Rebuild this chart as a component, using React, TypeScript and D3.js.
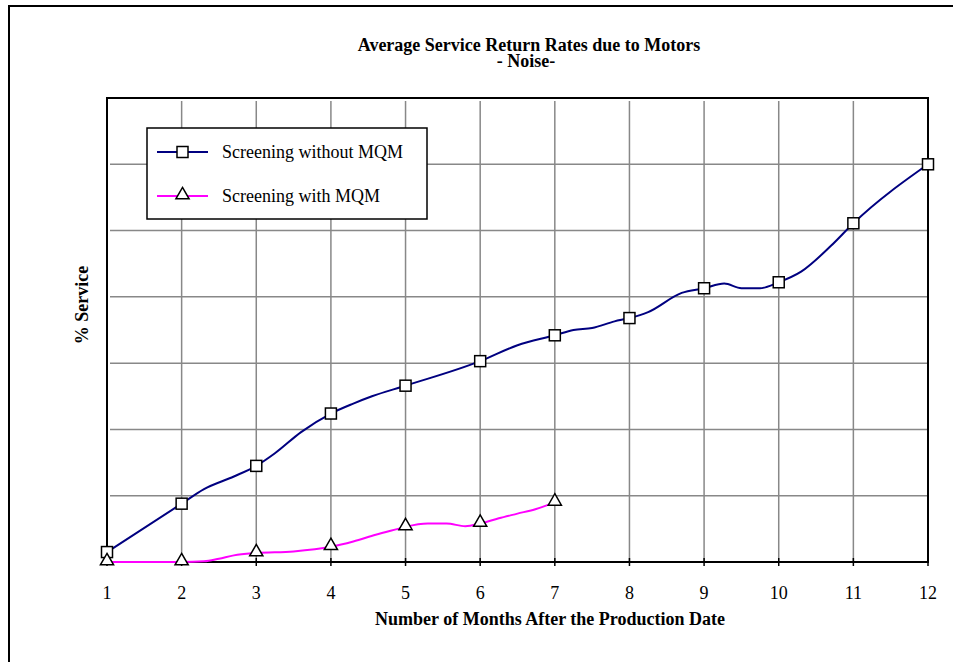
import * as d3 from "d3";
import React, { useEffect, useRef } from "react";

// months on the x axis
const months = [1, 2, 3, 4, 5, 6, 7, 8, 9, 10, 11, 12];

// Screening without MQM: [month, value] (grid units)
const withoutMonths = [1, 2, 2.3, 2.7, 3, 3.25, 3.6, 4, 4.3, 4.55, 5, 6, 6.5, 7, 7.25, 7.5, 7.8, 8, 8.25, 8.7, 9, 9.27, 9.5, 9.75, 10, 10.3, 10.7, 11, 12];
const withoutValues = [0.15, 0.88, 1.1, 1.29, 1.45, 1.64, 1.96, 2.24, 2.39, 2.5, 2.66, 3.03, 3.27, 3.42, 3.5, 3.53, 3.63, 3.68, 3.77, 4.06, 4.13, 4.2, 4.13, 4.13, 4.22, 4.38, 4.77, 5.11, 6.0];

// Screening with MQM
const withMonths = [1, 2, 2.3, 2.5, 2.7, 3, 3.5, 4, 4.3, 4.6, 4.9, 5, 5.3, 5.55, 5.8, 6, 6.25, 6.5, 6.75, 7];
const withValues = [0, 0, 0.01, 0.05, 0.1, 0.135, 0.16, 0.23, 0.31, 0.41, 0.5, 0.53, 0.58, 0.58, 0.54, 0.58, 0.66, 0.73, 0.8, 0.9];

const gridLevels = [1, 2, 3, 4, 5, 6];

const FONT = "'Liberation Serif', 'Times New Roman', serif";

const App: React.FC = () => {
  const ref = useRef<SVGSVGElement>(null);

  useEffect(() => {
    if (!ref.current) return;
    document.body.style.margin = "0";
    document.body.style.overflow = "hidden";
    const svg = d3.select(ref.current);
    svg.selectAll("*").remove();

    const left = 107,
      right = 928,
      top = 98,
      bottom = 562;

    const x = d3.scaleLinear().domain([1, 12]).range([left, right]);
    const y = d3.scaleLinear().domain([0, 7]).range([bottom, top]);

    // outer frame: only the top and left edges are inside the picture
    svg
      .append("path")
      .attr("d", "M9,662V6H953")
      .attr("fill", "none")
      .attr("stroke", "#000")
      .attr("stroke-width", 2);

    // title
    const title = svg
      .append("text")
      .attr("text-anchor", "middle")
      .style("font-family", FONT)
      .style("font-weight", "bold")
      .style("font-size", "18px");
    title.append("tspan").attr("x", 529).attr("y", 51).text("Average Service Return Rates due to Motors");
    title.append("tspan").attr("x", 526).attr("y", 67).text("- Noise-");

    // grid
    svg
      .append("g")
      .selectAll("line")
      .data(gridLevels)
      .join("line")
      .attr("x1", left + 3)
      .attr("x2", right)
      .attr("y1", (d) => y(d))
      .attr("y2", (d) => y(d))
      .attr("stroke", "#888")
      .attr("stroke-width", 1.5);

    svg
      .append("g")
      .selectAll("line")
      .data(months.slice(1, -1))
      .join("line")
      .attr("x1", (d) => x(d))
      .attr("x2", (d) => x(d))
      .attr("y1", top + 3)
      .attr("y2", bottom)
      .attr("stroke", "#888")
      .attr("stroke-width", 1.5);

    // tick marks
    svg
      .append("g")
      .selectAll("line")
      .data(months)
      .join("line")
      .attr("x1", (d) => x(d))
      .attr("x2", (d) => x(d))
      .attr("y1", bottom - 4)
      .attr("y2", bottom + 4)
      .attr("stroke", "#000")
      .attr("stroke-width", 1.5);

    // plot frame
    svg
      .append("rect")
      .attr("x", left)
      .attr("y", top)
      .attr("width", right - left)
      .attr("height", bottom - top)
      .attr("fill", "none")
      .attr("stroke", "#000")
      .attr("stroke-width", 2);

    // tick labels
    svg
      .append("g")
      .selectAll("text")
      .data(months)
      .join("text")
      .attr("x", (d) => x(d))
      .attr("y", 599)
      .attr("text-anchor", "middle")
      .style("font-family", FONT)
      .style("font-size", "18px")
      .text((d) => d);

    // axis titles
    svg
      .append("text")
      .attr("x", 550)
      .attr("y", 625)
      .attr("text-anchor", "middle")
      .style("font-family", FONT)
      .style("font-weight", "bold")
      .style("font-size", "18px")
      .text("Number of Months After the Production Date");

    svg
      .append("text")
      .attr("transform", "translate(88,305) rotate(-90)")
      .attr("text-anchor", "middle")
      .style("font-family", FONT)
      .style("font-weight", "bold")
      .style("font-size", "18px")
      .text("% Service");

    const line = d3
      .line<[number, number]>()
      .x((d) => x(d[0]))
      .y((d) => y(d[1]))
      .curve(d3.curveMonotoneX);

    const without: [number, number][] = withoutMonths.map((m, i) => [m, withoutValues[i]]);
    const withM: [number, number][] = withMonths.map((m, i) => [m, withValues[i]]);

    svg
      .append("path")
      .attr("d", line(withM))
      .attr("fill", "none")
      .attr("stroke", "#ff00ff")
      .attr("stroke-width", 2);

    svg
      .append("path")
      .attr("d", line(without))
      .attr("fill", "none")
      .attr("stroke", "#000080")
      .attr("stroke-width", 2);

    const tri = d3.symbol().type(d3.symbolTriangle).size(75);
    const sq = 11;

    // markers only at whole months
    svg
      .append("g")
      .selectAll("rect")
      .data(without.filter((d) => Number.isInteger(d[0])))
      .join("rect")
      .attr("x", (d) => x(d[0]) - sq / 2)
      .attr("y", (d) => y(d[1]) - sq / 2)
      .attr("width", sq)
      .attr("height", sq)
      .attr("fill", "#fff")
      .attr("stroke", "#000")
      .attr("stroke-width", 1.5);

    svg
      .append("g")
      .selectAll("path")
      .data(withM.filter((d) => Number.isInteger(d[0])))
      .join("path")
      .attr("d", tri)
      .attr("transform", (d) => `translate(${x(d[0])},${y(d[1]) - 1})`)
      .attr("fill", "#fff")
      .attr("stroke", "#000")
      .attr("stroke-width", 1.5);

    // legend
    const lg = svg.append("g");
    lg.append("rect")
      .attr("x", 147)
      .attr("y", 128)
      .attr("width", 280)
      .attr("height", 91)
      .attr("fill", "#fff")
      .attr("stroke", "#000")
      .attr("stroke-width", 1.5);

    const items = [
      { label: "Screening without MQM", color: "#000080", y: 152 },
      { label: "Screening with MQM", color: "#ff00ff", y: 196 },
    ];
    items.forEach((it, i) => {
      lg.append("line")
        .attr("x1", 157)
        .attr("x2", 208)
        .attr("y1", it.y)
        .attr("y2", it.y)
        .attr("stroke", it.color)
        .attr("stroke-width", 2);
      if (i === 0) {
        lg.append("rect")
          .attr("x", 182.5 - sq / 2)
          .attr("y", it.y - sq / 2)
          .attr("width", sq)
          .attr("height", sq)
          .attr("fill", "#fff")
          .attr("stroke", "#000")
          .attr("stroke-width", 1.5);
      } else {
        lg.append("path")
          .attr("d", tri)
          .attr("transform", `translate(182.5,${it.y - 1})`)
          .attr("fill", "#fff")
          .attr("stroke", "#000")
          .attr("stroke-width", 1.5);
      }
      lg.append("text")
        .attr("x", 222)
        .attr("y", it.y + 6)
        .style("font-family", FONT)
        .style("font-size", "18px")
        .text(it.label);
    });
  }, []);

  return (
    <svg
      ref={ref}
      width={953}
      height={662}
      style={{ position: "absolute", left: 0, top: 0, background: "#fff" }}
    />
  );
};

export default App;
